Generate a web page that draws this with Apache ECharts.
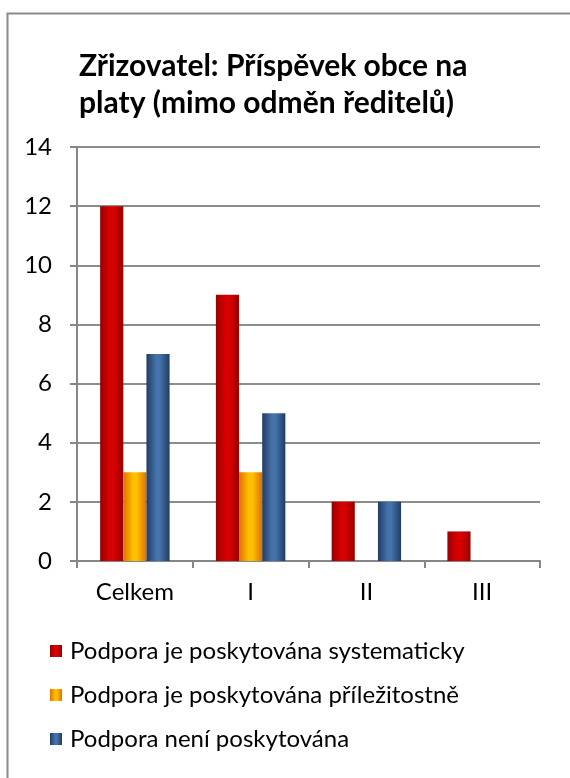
<!DOCTYPE html>
<html>
<head>
<meta charset="utf-8">
<script src="https://cdn.jsdelivr.net/npm/echarts@6/dist/echarts.min.js"></script>
<style>
html, body { margin: 0; padding: 0; background: #fff; }
#chart { width: 570px; height: 778px; }
</style>
</head>
<body>
<div id="chart"></div>
<script>
var categories = ['Celkem', 'I', 'II', 'III'];
var seriesNames = ['Podpora je poskytována systematicky', 'Podpora je poskytována příležitostně', 'Podpora není poskytována'];
var systematicky = [12, 9, 2, 1];
var prilezitostne = [3, 3, 0, 0];
var neni = [7, 5, 2, 0];

function grad(dark, light) {
    return new echarts.graphic.LinearGradient(0, 0, 1, 0, [
        { offset: 0, color: dark },
        { offset: 0.42, color: light },
        { offset: 0.58, color: light },
        { offset: 1, color: dark }
    ]);
}

var font = 'Lato, "Open Sans", sans-serif';
var myChart = echarts.init(document.getElementById('chart'));

var options = {
    backgroundColor: '#fff',
    animation: false,
    title: {
        text: 'Zřizovatel: Příspěvek obce na\nplaty (mimo odměn ředitelů)',
        left: 79,
        top: 48,
        padding: 0,
        textStyle: { fontFamily: font, fontWeight: 'bold', fontSize: 30, lineHeight: 37, color: '#000' }
    },
    graphic: [{
        type: 'rect',
        shape: { x: 7.5, y: 13.5, width: 700, height: 900 },
        style: { fill: 'none', stroke: '#8a8a8a', lineWidth: 2 },
        silent: true
    }],
    legend: {
        orient: 'vertical',
        left: 50,
        top: 639,
        padding: 0,
        itemGap: 20,
        itemWidth: 12,
        itemHeight: 12,
        icon: 'rect',
        textStyle: { fontFamily: font, fontSize: 24, lineHeight: 24, color: '#000', padding: [0, 0, 0, 3] },
        data: seriesNames
    },
    grid: { left: 77, right: 30, top: 147, bottom: 217 },
    xAxis: {
        type: 'category',
        data: categories,
        axisLine: { lineStyle: { color: '#868686', width: 2 } },
        axisTick: { show: true, length: 7, lineStyle: { color: '#868686', width: 2 } },
        axisLabel: { fontFamily: font, fontSize: 24, color: '#000', margin: 19 }
    },
    yAxis: {
        type: 'value',
        min: 0,
        max: 14,
        interval: 2,
        axisLine: { show: true, lineStyle: { color: '#868686', width: 2 } },
        axisTick: { show: true, length: 7, lineStyle: { color: '#868686', width: 2 } },
        splitLine: { lineStyle: { color: '#8c8c8c', width: 2 } },
        axisLabel: { fontFamily: font, fontSize: 24, color: '#000', margin: 25 }
    },
    series: [{
        name: seriesNames[0],
        type: 'bar',
        data: systematicky,
        barGap: '0%',
        barCategoryGap: '40%',
        itemStyle: { color: grad('#990000', '#d80000') }
    }, {
        name: seriesNames[1],
        type: 'bar',
        data: prilezitostne,
        itemStyle: { color: grad('#e07000', '#ffc000') }
    }, {
        name: seriesNames[2],
        type: 'bar',
        data: neni,
        itemStyle: { color: grad('#223c62', '#4472aa') }
    }]
};

myChart.setOption(options);
</script>
</body>
</html>
